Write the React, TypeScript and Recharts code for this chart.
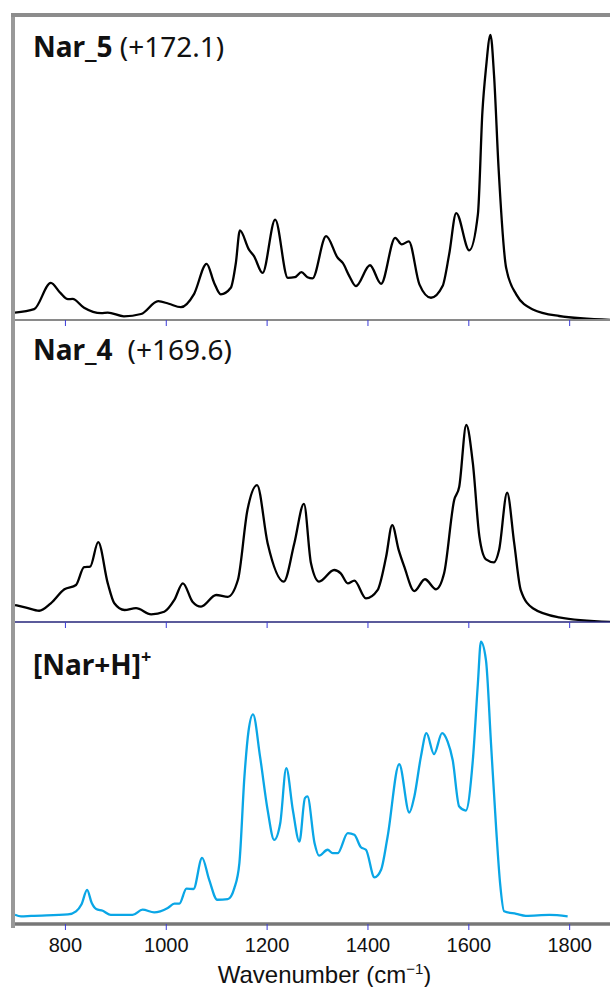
import { Label, Line, LineChart, XAxis, YAxis } from "recharts";

// shared x axis
const xTicks = [800, 1000, 1200, 1400, 1600, 1800];
const xDomain: [number, number] = [700, 1880];

// Nar_5 (+172.1), relative intensity
const nar5Wn = [
  700, 738, 771, 790, 805, 814, 837, 871, 884, 916, 950, 984, 1005, 1029, 1055, 1080, 1095, 1108,
  1128, 1138, 1146, 1164, 1174, 1191, 1216, 1241, 1255, 1268, 1280, 1290, 1317, 1340, 1350, 1363,
  1376, 1404, 1426, 1454, 1467, 1481, 1502, 1525, 1548, 1561, 1575, 1601, 1618, 1627, 1634, 1643,
  1650, 1659, 1674, 1694, 1727, 1779, 1880,
];
const nar5Int = [
  0.026, 0.038, 0.13, 0.095, 0.073, 0.074, 0.043, 0.024, 0.026, 0.013, 0.021, 0.066, 0.057, 0.045,
  0.091, 0.197, 0.13, 0.09, 0.113, 0.2, 0.314, 0.247, 0.224, 0.165, 0.352, 0.148, 0.15, 0.168, 0.15,
  0.146, 0.294, 0.218, 0.2, 0.154, 0.119, 0.192, 0.127, 0.288, 0.265, 0.276, 0.125, 0.078, 0.119,
  0.23, 0.375, 0.244, 0.37, 0.731, 0.882, 1.0, 0.859, 0.533, 0.183, 0.09, 0.037, 0.014, 0.0,
];

// Nar_4 (+169.6)
const nar4Wn = [
  700, 722, 748, 771, 798, 821, 837, 849, 865, 884, 897, 917, 940, 970, 996, 1016, 1033, 1052, 1069,
  1099, 1122, 1142, 1161, 1180, 1201, 1233, 1254, 1273, 1287, 1303, 1333, 1346, 1360, 1373, 1396,
  1419, 1436, 1448, 1461, 1472, 1492, 1513, 1535, 1551, 1571, 1581, 1595, 1608, 1621, 1634, 1650,
  1660, 1676, 1690, 1703, 1727, 1779, 1880,
];
const nar4Int = [
  0.086, 0.073, 0.057, 0.095, 0.166, 0.188, 0.278, 0.281, 0.405, 0.196, 0.095, 0.061, 0.07, 0.039,
  0.052, 0.112, 0.196, 0.103, 0.078, 0.137, 0.128, 0.213, 0.569, 0.695, 0.4, 0.205, 0.4, 0.6, 0.298,
  0.205, 0.264, 0.247, 0.196, 0.21, 0.12, 0.162, 0.331, 0.492, 0.365, 0.281, 0.157, 0.217, 0.166,
  0.247, 0.619, 0.687, 1.0, 0.806, 0.433, 0.318, 0.303, 0.365, 0.656, 0.4, 0.162, 0.07, 0.024, 0.0,
];

// [Nar+H]+ experiment
const narHWn = [
  700, 712, 732, 805, 821, 832, 843, 852, 861, 874, 890, 933, 953, 976, 1003, 1016, 1026, 1040, 1054,
  1071, 1085, 1101, 1122, 1135, 1145, 1155, 1163, 1172, 1186, 1201, 1214, 1226, 1238, 1251, 1264,
  1275, 1280, 1294, 1303, 1320, 1330, 1340, 1360, 1373, 1386, 1396, 1413, 1426, 1439, 1462, 1482,
  1492, 1505, 1516, 1531, 1547, 1558, 1568, 1581, 1594, 1608, 1618, 1624, 1634, 1644, 1654, 1662,
  1670, 1694, 1713, 1760, 1796,
];
const narHInt = [
  0.033, 0.027, 0.029, 0.034, 0.045, 0.07, 0.121, 0.075, 0.053, 0.047, 0.032, 0.032, 0.051, 0.041,
  0.057, 0.072, 0.072, 0.125, 0.124, 0.234, 0.157, 0.086, 0.088, 0.127, 0.216, 0.522, 0.682, 0.743,
  0.593, 0.404, 0.298, 0.357, 0.552, 0.404, 0.292, 0.446, 0.452, 0.287, 0.242, 0.263, 0.251, 0.251,
  0.322, 0.316, 0.272, 0.263, 0.165, 0.192, 0.31, 0.566, 0.395, 0.452, 0.593, 0.676, 0.602, 0.676,
  0.646, 0.581, 0.416, 0.402, 0.581, 0.853, 1.0, 0.935, 0.64, 0.345, 0.145, 0.045, 0.036, 0.029,
  0.032, 0.027,
];

const toRows = (wn: number[], v: number[]) => wn.map((w, i) => ({ wn: w, v: v[i] }));

const noTick = () => <g />;

type PanelProps = {
  rows: { wn: number; v: number }[];
  top: number;
  marginTop: number;
  axisHeight: number;
  yMax: number;
  color: string;
  axisColor: string;
  axisWidth: number;
  bottom?: boolean;
};

function Panel({ rows, top, marginTop, axisHeight, yMax, color, axisColor, axisWidth, bottom }: PanelProps) {
  return (
    <div style={{ position: "absolute", left: 0, top }}>
      <LineChart
        width={610}
        height={marginTop + 302 + axisHeight}
        data={rows}
        margin={{ top: marginTop, right: 0, left: 15, bottom: 0 }}
      >
        <XAxis
          dataKey="wn"
          type="number"
          domain={xDomain}
          ticks={xTicks}
          height={axisHeight}
          axisLine={{ stroke: axisColor, strokeWidth: axisWidth }}
          tickLine={{ stroke: "#3a3ad8", strokeWidth: 1 }}
          tickSize={6}
          tickMargin={8}
          tick={bottom ? { fill: "#111", fontSize: 20, fontFamily: "Liberation Sans, Arial" } : noTick}
        >
          {bottom && (
            <Label
              content={({ viewBox }: any) => (
                <text
                  x={viewBox.x + viewBox.width / 2 + 12}
                  y={viewBox.y + 59}
                  textAnchor="middle"
                  fill="#111"
                  fontSize={24}
                  fontFamily="Liberation Sans, Arial"
                >
                  Wavenumber (cm
                  <tspan dy={-9} fontSize={15}>
                    −1
                  </tspan>
                  <tspan dy={9}>)</tspan>
                </text>
              )}
            />
          )}
        </XAxis>
        <YAxis hide type="number" domain={[0, yMax]} allowDataOverflow />
        <Line
          type="monotone"
          dataKey="v"
          stroke={color}
          strokeWidth={2.3}
          dot={false}
          isAnimationActive={false}
        />
      </LineChart>
    </div>
  );
}

const labelFont = { fontFamily: "Noto Sans, Liberation Sans, Arial", fontSize: 28, fill: "#111" };

export default function App() {
  return (
    <div style={{ position: "absolute", left: 0, top: 0, width: 610, height: 987, background: "#fff" }}>
      <Panel
        rows={toRows(nar5Wn, nar5Int)}
        top={0}
        marginTop={18}
        axisHeight={10}
        yMax={1.059}
        color="#000"
        axisColor="#8a8a8a"
        axisWidth={2}
      />
      <Panel
        rows={toRows(nar4Wn, nar4Int)}
        top={300}
        marginTop={20}
        axisHeight={10}
        yMax={1.533}
        color="#000"
        axisColor="#25257a"
        axisWidth={1.5}
      />
      <Panel
        rows={toRows(narHWn, narHInt)}
        top={600}
        marginTop={22}
        axisHeight={65}
        yMax={1.07}
        color="#0aa6e6"
        axisColor="#777"
        axisWidth={3.5}
        bottom
      />
      {/* frame: left and top borders */}
      <div style={{ position: "absolute", left: 11, top: 13, width: 4, height: 915, background: "#999" }} />
      <div style={{ position: "absolute", left: 11, top: 13, width: 599, height: 4, background: "#8c8c8c" }} />
      <svg width={610} height={987} style={{ position: "absolute", left: 0, top: 0, pointerEvents: "none" }}>
        <text x={33} y={57} {...labelFont}>
          <tspan fontWeight="bold">Nar_5</tspan>
          <tspan> (+172.1)</tspan>
        </text>
        <text x={33} y={360} {...labelFont}>
          <tspan fontWeight="bold">Nar_4</tspan>
          <tspan dx={15}>(+169.6)</tspan>
        </text>
        <text x={33} y={675} {...labelFont} fontWeight="bold">
          [Nar+H]
          <tspan dy={-12} fontSize={18}>
            +
          </tspan>
        </text>
      </svg>
    </div>
  );
}
